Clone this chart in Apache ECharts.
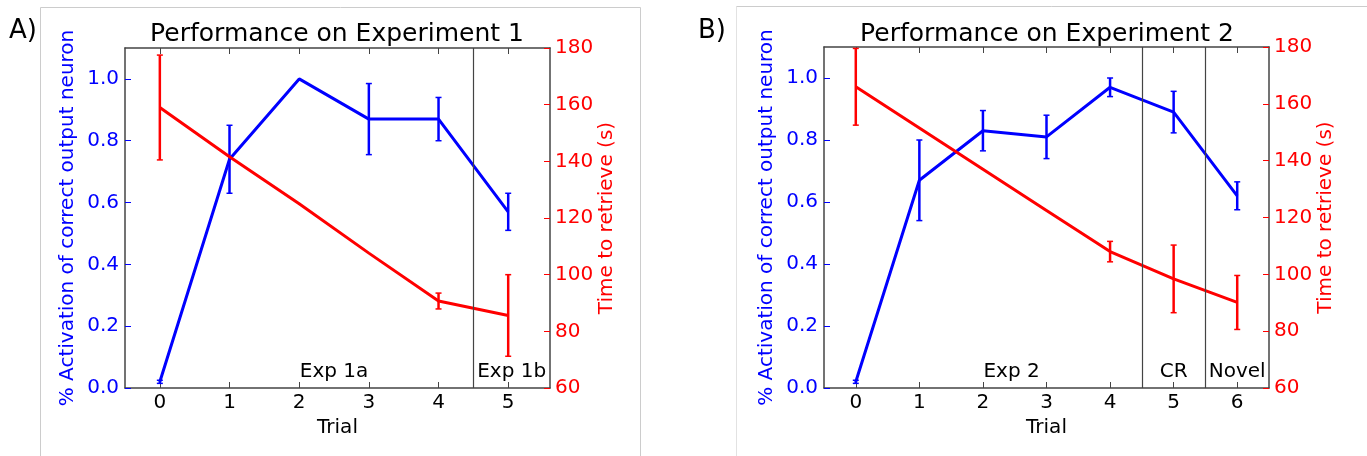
<!DOCTYPE html>
<html>
<head>
<meta charset="utf-8">
<script src="https://cdn.jsdelivr.net/npm/echarts@6/dist/echarts.min.js"></script>
<style>
html,body{margin:0;padding:0;background:#fff;}
#chart{width:1367px;height:456px;}
</style>
</head>
<body>
<div id="chart"></div>
<script>
// ---------- data ----------
const trialsA = [0, 1, 2, 3, 4, 5];
const actA = [0.02, 0.74, 1.0, 0.87, 0.87, 0.57];
const actErrA = [0.005, 0.11, 0, 0.115, 0.07, 0.06];
const timeA = [159, 141.6, 125, 107.6, 90.7, 85.6];
const timeErrA = [18.5, 0, 0, 0, 2.8, 14.4];
const dividersA = [4.5];
const phaseNamesA = ['Exp 1a', 'Exp 1b'];
const phasePosA = [2.5, 5.05];

const trialsB = [0, 1, 2, 3, 4, 5, 6];
const actB = [0.02, 0.67, 0.83, 0.81, 0.97, 0.89, 0.62];
const actErrB = [0.005, 0.13, 0.065, 0.07, 0.03, 0.067, 0.045];
const timeB = [166, 151.5, 137, 122.5, 108, 98.4, 90.1];
const timeErrB = [13.5, 0, 0, 0, 3.6, 11.9, 9.5];
const dividersB = [4.5, 5.5];
const phaseNamesB = ['Exp 2', 'CR', 'Novel'];
const phasePosB = [2.45, 5, 6];

const actTicks = [0, 0.2, 0.4, 0.6, 0.8, 1.0];
const titles = ['Performance on Experiment 1', 'Performance on Experiment 2'];
const panelLetters = ['A)', 'B)'];
const leftName = '% Activation of correct output neuron';
const rightName = 'Time to retrieve (s)';
const xName = 'Trial';

// ---------- style ----------
const FONT = 'DejaVu Sans';
const BLUE = '#0000ff', RED = '#ff0000', SPINE = '#444444';

const chart = echarts.init(document.getElementById('chart'), null, {renderer: 'canvas'});

function xAxes(grid, trials, max) {
  return [
    {
      gridIndex: grid, type: 'value', min: -0.5, max: max, position: 'bottom',
      axisLine: {show: true, onZero: false, lineStyle: {color: SPINE, width: 1.5}},
      axisTick: {show: true, inside: true, length: 6, customValues: trials, lineStyle: {color: SPINE, width: 1}},
      axisLabel: {customValues: trials, color: '#000', fontSize: 20, fontFamily: FONT, margin: 5},
      splitLine: {show: false},
      name: xName, nameLocation: 'middle', nameGap: 29,
      nameTextStyle: {color: '#000', fontSize: 20, fontFamily: FONT}
    },
    {
      gridIndex: grid, type: 'value', min: -0.5, max: max, position: 'top',
      axisLine: {show: true, onZero: false, lineStyle: {color: SPINE, width: 1.5}},
      axisTick: {show: true, inside: true, length: 6, customValues: trials, lineStyle: {color: SPINE, width: 1}},
      axisLabel: {show: false},
      splitLine: {show: false}
    }
  ];
}

function yAxes(grid) {
  return [
    {
      gridIndex: grid, type: 'value', min: 0, max: 1.1, position: 'left',
      axisLine: {show: true, onZero: false, lineStyle: {color: SPINE, width: 1.5}},
      axisTick: {show: true, inside: true, length: 6, customValues: actTicks, lineStyle: {color: BLUE, width: 1}},
      axisLabel: {customValues: actTicks, formatter: v => Number(v).toFixed(1), color: BLUE, fontSize: 20, fontFamily: FONT, margin: 6},
      splitLine: {show: false},
      name: leftName, nameLocation: 'middle', nameRotate: 90, nameGap: 47,
      nameTextStyle: {color: BLUE, fontSize: 20, fontFamily: FONT}
    },
    {
      gridIndex: grid, type: 'value', min: 60, max: 180, interval: 20, position: 'right',
      axisLine: {show: true, onZero: false, lineStyle: {color: SPINE, width: 1.5}},
      axisTick: {show: true, inside: true, length: 6, lineStyle: {color: RED, width: 1}},
      axisLabel: {color: RED, fontSize: 20, fontFamily: FONT, margin: 5},
      splitLine: {show: false},
      name: rightName, nameLocation: 'middle', nameRotate: 90, nameGap: 46,
      nameTextStyle: {color: RED, fontSize: 20, fontFamily: FONT}
    }
  ];
}

function errSeries(xi, yi, trials, vals, errs, color, z) {
  return {
    type: 'custom', xAxisIndex: xi, yAxisIndex: yi, z: z, silent: true,
    data: trials.map((t, i) => [t, vals[i], errs[i]]),
    renderItem: function (params, api) {
      const x = api.value(0), v = api.value(1), e = api.value(2);
      if (!e) return null;
      const top = api.coord([x, v + e]);
      const bot = api.coord([x, v - e]);
      const cap = 3;
      const st = {stroke: color, lineWidth: 2.5};
      const cst = {stroke: color, lineWidth: 1.5};
      return {
        type: 'group',
        children: [
          {type: 'line', shape: {x1: top[0], y1: top[1], x2: bot[0], y2: bot[1]}, style: st},
          {type: 'line', shape: {x1: top[0] - cap, y1: top[1], x2: top[0] + cap, y2: top[1]}, style: cst},
          {type: 'line', shape: {x1: bot[0] - cap, y1: bot[1], x2: bot[0] + cap, y2: bot[1]}, style: cst}
        ]
      };
    }
  };
}

function panelSeries(xi, yi, trials, act, actErr, time, timeErr, dividers, names, pos) {
  return [
    {
      type: 'line', xAxisIndex: xi, yAxisIndex: yi, z: 2, silent: true,
      data: trials.map((t, i) => [t, act[i]]),
      showSymbol: false, symbol: 'none',
      lineStyle: {color: BLUE, width: 3},
      markLine: {
        silent: true, symbol: ['none', 'none'], label: {show: false},
        lineStyle: {color: SPINE, width: 1.2, type: 'solid'},
        data: dividers.map(d => ({xAxis: d}))
      }
    },
    errSeries(xi, yi, trials, act, actErr, BLUE, 2),
    {
      type: 'line', xAxisIndex: xi, yAxisIndex: yi + 1, z: 3, silent: true,
      data: trials.map((t, i) => [t, time[i]]),
      showSymbol: false, symbol: 'none',
      lineStyle: {color: RED, width: 3}
    },
    errSeries(xi, yi + 1, trials, time, timeErr, RED, 3),
    {
      type: 'scatter', xAxisIndex: xi, yAxisIndex: yi, z: 4, silent: true,
      symbolSize: 0,
      itemStyle: {opacity: 1},
      data: names.map((n, i) => [pos[i], 0, n]),
      label: {
        show: true, position: 'top', distance: 6,
        formatter: p => p.value[2],
        color: '#000', opacity: 1, fontSize: 20, fontFamily: FONT
      }
    }
  ];
}

const option = {
  animation: false,
  backgroundColor: '#ffffff',
  grid: [
    {left: 125, top: 48, width: 425, height: 340},
    {left: 824, top: 47, width: 445, height: 341}
  ],
  xAxis: [].concat(xAxes(0, trialsA, 5.6), xAxes(1, trialsB, 6.5)),
  yAxis: [].concat(yAxes(0), yAxes(1)),
  series: [].concat(
    panelSeries(0, 0, trialsA, actA, actErrA, timeA, timeErrA, dividersA, phaseNamesA, phasePosA),
    panelSeries(2, 2, trialsB, actB, actErrB, timeB, timeErrB, dividersB, phaseNamesB, phasePosB)
  ),
  graphic: [
    {type: 'line', silent: true, shape: {x1: 40.5, y1: 7.5, x2: 40.5, y2: 456}, style: {stroke: '#cccccc', lineWidth: 1}},
    {type: 'line', silent: true, shape: {x1: 40.5, y1: 7.5, x2: 640.5, y2: 7.5}, style: {stroke: '#cccccc', lineWidth: 1}},
    {type: 'line', silent: true, shape: {x1: 640.5, y1: 7.5, x2: 640.5, y2: 456}, style: {stroke: '#cccccc', lineWidth: 1}},
    {type: 'line', silent: true, shape: {x1: 736.5, y1: 6.5, x2: 736.5, y2: 456}, style: {stroke: '#e2e2e2', lineWidth: 1}},
    {type: 'line', silent: true, shape: {x1: 736.5, y1: 6.5, x2: 1367, y2: 6.5}, style: {stroke: '#cccccc', lineWidth: 1}},
    {type: 'text', silent: true, x: 9, y: 31, style: {text: panelLetters[0], font: '26px "DejaVu Sans"', fill: '#000', textAlign: 'left', textVerticalAlign: 'middle'}},
    {type: 'text', silent: true, x: 698, y: 31, style: {text: panelLetters[1], font: '26px "DejaVu Sans"', fill: '#000', textAlign: 'left', textVerticalAlign: 'middle'}},
    {type: 'text', silent: true, x: 337, y: 34, style: {text: titles[0], font: '25px "DejaVu Sans"', fill: '#000', textAlign: 'center', textVerticalAlign: 'middle'}},
    {type: 'text', silent: true, x: 1047, y: 34, style: {text: titles[1], font: '25px "DejaVu Sans"', fill: '#000', textAlign: 'center', textVerticalAlign: 'middle'}}
  ]
};

chart.setOption(option);
</script>
</body>
</html>
